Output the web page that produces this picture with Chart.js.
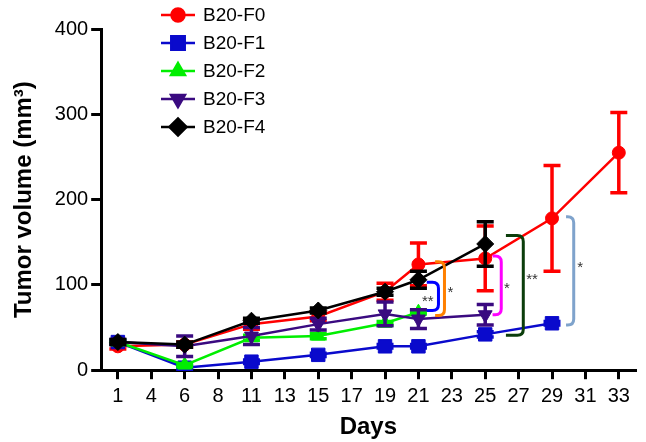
<!DOCTYPE html>
<html>
<head>
<meta charset="utf-8">
<script src="https://cdn.jsdelivr.net/npm/chart.js@4.4.1/dist/chart.umd.min.js"></script>
<style>
  body { margin: 0; background: #fff; }
  #wrap { width: 646px; height: 442px; }
</style>
</head>
<body>
<div id="wrap"><canvas id="tumorChart"></canvas></div>
<script>
const days = ['1', '4', '6', '8', '11', '13', '15', '17', '19', '21', '23', '25', '27', '29', '31', '33']
const groups = ['B20-F0', 'B20-F1', 'B20-F2', 'B20-F3', 'B20-F4']

// mean volume per day (null = not measured)
const f0 = [28, null, 30, null, 54, null, 63, null, 92, 124, null, 131, null, 178, null, 255]
const f1 = [33, null, 3, null, 10, null, 18, null, 28, 28, null, 42, null, 55, null, null]
const f2 = [33, null, 6, null, 38, null, 40, null, 55, 68, null, null, null, null, null, null]
const f3 = [33, null, 28, null, 40, null, 54, null, 66, 60, null, 65, null, null, null, null]
const f4 = [33, null, 30, null, 58, null, 70, null, 92, 106, null, 148, null, null, null, null]

// error bars (+/-)
const f0Err = [3, 0, 3, 0, 6, 0, 5, 0, 10, 25, 0, 38, 0, 62, 0, 47]
const f1Err = [2, 0, 2, 0, 2, 0, 2, 0, 2, 2, 0, 3, 0, 2, 0, 0]
const f2Err = [2, 0, 2, 0, 3, 0, 3, 0, 2, 2, 0, 0, 0, 0, 0, 0]
const f3Err = [3, 0, 12, 0, 10, 0, 7, 0, 14, 11, 0, 12, 0, 0, 0, 0]
const f4Err = [3, 0, 3, 0, 3, 0, 3, 0, 4, 10, 0, 26, 0, 0, 0, 0]

const yTicks = [0, 100, 200, 300, 400]

// significance brackets: x (category index), top, bottom, stars
const brackets = [
  { x: 9.6, armX: 9.25, top: 103, bottom: 70, stars: '**', color: '#0000ff', labelX: 9.28, labelY: 84 },
  { x: 9.78, armX: 9.5, top: 127, bottom: 64, stars: '*', color: '#ff8000', labelX: 9.96, labelY: 94 },
  { x: 11.48, armX: 11.22, top: 134, bottom: 65, stars: '*', color: '#ff00ff', labelX: 11.65, labelY: 99 },
  { x: 12.14, armX: 11.62, top: 158, bottom: 41, stars: '**', color: '#0b3d0b', labelX: 12.4, labelY: 109 },
  { x: 13.65, armX: 13.42, top: 180, bottom: 53, stars: '*', color: '#7fa3cc', labelX: 13.84, labelY: 123 }
]

const FONT = "'Liberation Sans', Arial, sans-serif"

const errorBars = {
  id: 'errorBars',
  beforeDatasetDraw(chart, args) {
    const ds = chart.data.datasets[args.index]
    if (!ds.errors) return
    const ctx = chart.ctx
    const y = chart.scales.y
    ctx.save()
    ctx.strokeStyle = ds.borderColor
    ctx.lineWidth = 3.5
    args.meta.data.forEach((pt, i) => {
      const v = ds.data[i]
      const e = ds.errors[i]
      if (v == null || !e) return
      const top = y.getPixelForValue(v + e)
      const bot = y.getPixelForValue(v - e)
      ctx.beginPath()
      ctx.moveTo(pt.x, top)
      ctx.lineTo(pt.x, bot)
      ctx.moveTo(pt.x - 8.5, top)
      ctx.lineTo(pt.x + 8.5, top)
      ctx.moveTo(pt.x - 8.5, bot)
      ctx.lineTo(pt.x + 8.5, bot)
      ctx.stroke()
    })
    ctx.restore()
  }
}

const sigBrackets = {
  id: 'sigBrackets',
  afterDatasetsDraw(chart) {
    const ctx = chart.ctx
    const xs = chart.scales.x
    const ys = chart.scales.y
    ctx.save()
    brackets.forEach(b => {
      const x = xs.getPixelForValue(b.x)
      const ax = xs.getPixelForValue(b.armX)
      const t = ys.getPixelForValue(b.top)
      const bt = ys.getPixelForValue(b.bottom)
      const r = Math.min(6, x - ax)
      ctx.strokeStyle = b.color
      ctx.lineWidth = 3
      ctx.beginPath()
      ctx.moveTo(ax, t)
      ctx.lineTo(x - r, t)
      ctx.quadraticCurveTo(x, t, x, t + r)
      ctx.lineTo(x, bt - r)
      ctx.quadraticCurveTo(x, bt, x - r, bt)
      ctx.lineTo(ax, bt)
      ctx.stroke()
      ctx.fillStyle = '#333'
      ctx.font = '15px ' + FONT
      ctx.textAlign = 'center'
      ctx.textBaseline = 'middle'
      ctx.fillText(b.stars, xs.getPixelForValue(b.labelX), ys.getPixelForValue(b.labelY) + 3)
    })
    ctx.restore()
  }
}

const insideLegend = {
  id: 'insideLegend',
  afterDraw(chart) {
    const ctx = chart.ctx
    ctx.save()
    chart.data.datasets.forEach((ds, i) => {
      const y = 15 + i * 28
      ctx.strokeStyle = ds.borderColor
      ctx.fillStyle = ds.backgroundColor
      ctx.lineWidth = 2.5
      ctx.beginPath()
      ctx.moveTo(161, y)
      ctx.lineTo(195, y)
      ctx.stroke()
      Chart.helpers.drawPoint(ctx, {
        pointStyle: ds.pointStyle,
        rotation: ds.pointRotation || 0,
        radius: ds.pointRadius,
        borderWidth: 1
      }, 178, y)
      ctx.fillStyle = '#000'
      ctx.font = '19px ' + FONT
      ctx.textAlign = 'left'
      ctx.textBaseline = 'middle'
      ctx.fillText(ds.label, 203, y + 1)
    })
    ctx.restore()
  }
}

function series( label, data, errors, color, style, radius, rotation, order ) {
  return {
    label: label,
    data: data,
    errors: errors,
    borderColor: color,
    backgroundColor: color,
    borderWidth: 2.5,
    pointStyle: style,
    pointRadius: radius,
    pointRotation: rotation,
    pointBorderWidth: 1,
    pointHoverRadius: radius,
    spanGaps: true,
    tension: 0,
    order: order
  }
}

const chart = new Chart(document.getElementById('tumorChart'), {
  type: 'line',
  data: {
    labels: days,
    datasets: [
      series(groups[0], f0, f0Err, '#ff0000', 'circle', 6.5, 0, 5),
      series(groups[1], f1, f1Err, '#0a0acc', 'rect', 9.5, 0, 4),
      series(groups[2], f2, f2Err, '#00ee00', 'triangle', 8, 0, 3),
      series(groups[3], f3, f3Err, '#3a0a80', 'triangle', 8, 180, 2),
      series(groups[4], f4, f4Err, '#000000', 'rectRot', 8.5, 0, 1)
    ]
  },
  options: {
    responsive: true,
    maintainAspectRatio: false,
    animation: false,
    layout: { padding: { top: 29, right: 4, left: 2, bottom: 0 } },
    plugins: {
      legend: { display: false },
      tooltip: { enabled: false }
    },
    scales: {
      x: {
        type: 'category',
        offset: true,
        grid: { offset: false, drawOnChartArea: false, drawTicks: true, tickLength: 9, color: '#000', lineWidth: 3 },
        border: { color: '#000', width: 3 },
        ticks: { color: '#000', font: { family: FONT, size: 20, lineHeight: 1.1 }, padding: 6, maxRotation: 0, autoSkip: false },
        title: { display: true, text: 'Days', color: '#000', font: { family: FONT, size: 24, weight: 'bold' }, padding: { top: 0, bottom: 0 } }
      },
      y: {
        min: 0,
        max: 400,
        afterBuildTicks: axis => { axis.ticks = yTicks.map(v => ({ value: v })) },
        grid: { drawOnChartArea: false, drawTicks: true, tickLength: 10, color: '#000', lineWidth: 3 },
        border: { color: '#000', width: 3 },
        ticks: { color: '#000', font: { family: FONT, size: 20 }, padding: 3 },
        title: { display: true, text: 'Tumor volume (mm³)', color: '#000', font: { family: FONT, size: 24, weight: 'bold' }, padding: { top: 8, bottom: 13 } }
      }
    }
  },
  plugins: [errorBars, sigBrackets, insideLegend]
})
</script>
</body>
</html>
